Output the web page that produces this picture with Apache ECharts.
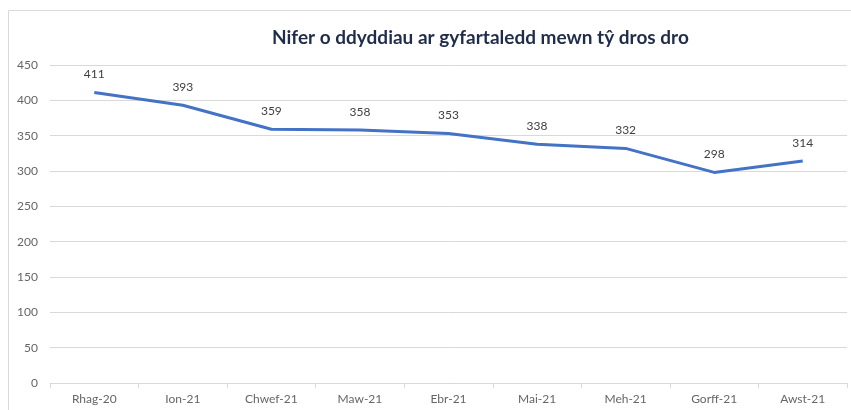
<!DOCTYPE html>
<html lang="cy">

<head>
    <meta charset="UTF-8">
    <title>Nifer o ddyddiau</title>
    <style>
        body {
            margin: 0;
            background: #fff;
        }

        .main {
            width: 851px;
            height: 410px;
        }
    </style>
    <script src="https://cdn.jsdelivr.net/npm/echarts@6/dist/echarts.min.js"></script>
</head>

<body>
    <div class="main"></div>
    <script>
        // data
        var months = ['Rhag-20', 'Ion-21', 'Chwef-21', 'Maw-21', 'Ebr-21', 'Mai-21', 'Meh-21', 'Gorff-21', 'Awst-21'];
        var days = [411, 393, 359, 358, 353, 338, 332, 298, 314];
        var titleText = 'Nifer o ddyddiau ar gyfartaledd mewn tŷ dros dro';

        var font = 'Lato, "Open Sans", sans-serif';
        var myChart = echarts.init(document.querySelector('.main'));

        var option = {
            animation: false,
            title: {
                text: titleText,
                left: 267,
                top: 23,
                textStyle: {
                    fontFamily: font,
                    fontSize: 19,
                    fontWeight: 'bold',
                    color: '#1f2d4a'
                }
            },
            // outer chart frame
            graphic: [{
                type: 'rect',
                shape: { x: 8.5, y: 10.5, width: 900, height: 500 },
                style: { fill: 'none', stroke: '#d9d9d9', lineWidth: 1 },
                silent: true
            }],
            grid: {
                left: 50,
                right: 4,
                top: 65,
                bottom: 27
            },
            xAxis: {
                type: 'category',
                data: months,
                boundaryGap: true,
                axisLine: { lineStyle: { color: '#d9d9d9' } },
                axisTick: { show: true, length: 5, lineStyle: { color: '#d9d9d9' } },
                axisLabel: {
                    color: '#666666',
                    fontFamily: font,
                    fontSize: 12,
                    margin: 10
                }
            },
            yAxis: {
                type: 'value',
                min: 0,
                max: 450,
                interval: 50,
                axisLine: { show: false },
                axisTick: { show: false },
                splitLine: { lineStyle: { color: '#d9d9d9' } },
                axisLabel: {
                    color: '#666666',
                    fontFamily: font,
                    fontSize: 12,
                    margin: 12
                }
            },
            series: [{
                type: 'line',
                data: days,
                showSymbol: true,
                symbol: 'circle',
                symbolSize: 0.1,
                lineStyle: { color: '#4472c4', width: 3 },
                itemStyle: { color: '#4472c4' },
                label: {
                    show: true,
                    position: 'top',
                    distance: 12,
                    color: '#404040',
                    fontFamily: font,
                    fontSize: 12
                }
            }]
        };

        myChart.setOption(option);
    </script>
</body>

</html>
